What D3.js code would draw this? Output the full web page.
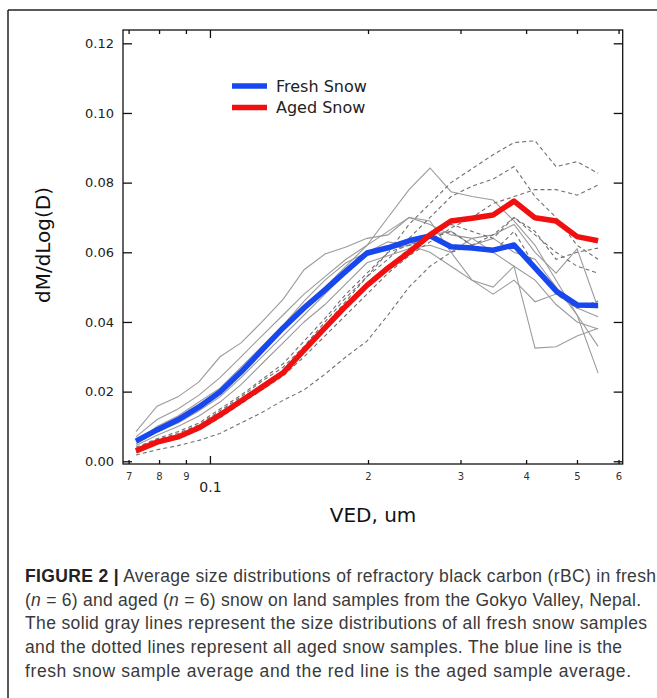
<!DOCTYPE html>
<html><head><meta charset="utf-8">
<script src="https://cdn.jsdelivr.net/npm/d3@7"></script>
<style>
html,body{margin:0;padding:0;background:#fff;}
svg{display:block;}
</style></head>
<body>
<svg id="chart" width="657" height="698"></svg>
<script>
// Bin centres (VED, um)
const ved = [0.0723,0.0793,0.0869,0.0953,0.1045,0.1146,0.1256,0.1378,0.1511,0.1656,0.1816,0.1991,0.2183,0.2394,0.2625,0.2878,0.3156,0.3461,0.3794,0.4160,0.4562,0.5002,0.5485];

// Averages
const freshAvg = [0.0058,0.0090,0.0119,0.0156,0.0199,0.0256,0.0319,0.0383,0.0440,0.0492,0.0546,0.0598,0.0613,0.0633,0.0647,0.0616,0.0612,0.0606,0.0621,0.0555,0.0489,0.0449,0.0447];
const agedAvg  = [0.0030,0.0055,0.0070,0.0096,0.0133,0.0173,0.0213,0.0254,0.0319,0.0383,0.0446,0.0505,0.0555,0.0600,0.0650,0.0690,0.0698,0.0707,0.0747,0.0699,0.0690,0.0645,0.0633];

// Individual fresh snow samples (solid gray)
const fresh1 = [0.0085,0.0158,0.0185,0.0228,0.0300,0.0340,0.0400,0.0465,0.0550,0.0595,0.0615,0.0640,0.0650,0.0700,0.0680,0.0650,0.0640,0.0600,0.0560,0.0520,0.0450,0.0400,0.0380];
const fresh2 = [0.0070,0.0120,0.0150,0.0190,0.0240,0.0300,0.0360,0.0420,0.0480,0.0530,0.0580,0.0620,0.0700,0.0780,0.0842,0.0774,0.0760,0.0750,0.0690,0.0620,0.0520,0.0420,0.0253];
const fresh3 = [0.0050,0.0085,0.0110,0.0145,0.0185,0.0240,0.0300,0.0360,0.0420,0.0480,0.0540,0.0590,0.0610,0.0620,0.0600,0.0560,0.0520,0.0500,0.0560,0.0325,0.0329,0.0360,0.0382];
const fresh4 = [0.0060,0.0095,0.0125,0.0160,0.0205,0.0260,0.0330,0.0390,0.0450,0.0500,0.0560,0.0620,0.0660,0.0700,0.0690,0.0600,0.0520,0.0480,0.0520,0.0458,0.0480,0.0440,0.0415];
const fresh5 = [0.0045,0.0075,0.0100,0.0130,0.0170,0.0220,0.0280,0.0340,0.0400,0.0450,0.0510,0.0570,0.0590,0.0610,0.0620,0.0600,0.0640,0.0650,0.0680,0.0600,0.0540,0.0610,0.0440];
const fresh6 = [0.0055,0.0100,0.0130,0.0170,0.0210,0.0270,0.0330,0.0390,0.0460,0.0520,0.0570,0.0600,0.0630,0.0620,0.0650,0.0660,0.0620,0.0640,0.0600,0.0580,0.0500,0.0420,0.0330];

// Individual aged snow samples (dashed gray)
const aged1 = [0.0018,0.0033,0.0045,0.0060,0.0080,0.0110,0.0140,0.0175,0.0205,0.0250,0.0300,0.0345,0.0420,0.0500,0.0560,0.0600,0.0620,0.0650,0.0700,0.0650,0.0600,0.0560,0.0540];
const aged2 = [0.0030,0.0060,0.0075,0.0100,0.0140,0.0180,0.0220,0.0260,0.0320,0.0390,0.0460,0.0530,0.0600,0.0680,0.0740,0.0800,0.0840,0.0880,0.0915,0.0920,0.0846,0.0860,0.0827];
const aged3 = [0.0035,0.0062,0.0080,0.0105,0.0145,0.0185,0.0230,0.0270,0.0330,0.0400,0.0470,0.0530,0.0580,0.0640,0.0700,0.0760,0.0790,0.0810,0.0846,0.0760,0.0700,0.0620,0.0580];
const aged4 = [0.0025,0.0050,0.0065,0.0090,0.0125,0.0165,0.0205,0.0245,0.0300,0.0360,0.0420,0.0480,0.0540,0.0590,0.0630,0.0670,0.0700,0.0740,0.0760,0.0780,0.0780,0.0764,0.0793];
const aged5 = [0.0032,0.0058,0.0072,0.0098,0.0135,0.0175,0.0215,0.0255,0.0320,0.0385,0.0450,0.0510,0.0560,0.0610,0.0650,0.0680,0.0660,0.0640,0.0700,0.0660,0.0580,0.0600,0.0612];
const aged6 = [0.0040,0.0065,0.0085,0.0110,0.0150,0.0190,0.0235,0.0280,0.0345,0.0410,0.0480,0.0540,0.0600,0.0620,0.0640,0.0660,0.0620,0.0600,0.0660,0.0560,0.0480,0.0440,0.0460];

const xTickValues = [0.07,0.08,0.09,0.1,0.2,0.3,0.4,0.5,0.6];
const xTickLabels = ["7","8","9","0.1","2","3","4","5","6"];
const yTickValues = [0.00,0.02,0.04,0.06,0.08,0.10,0.12];
const yTickLabels = ["0.00","0.02","0.04","0.06","0.08","0.10","0.12"];

const legendLabels = ["Fresh Snow","Aged Snow"];
const captionBold = "FIGURE 2 |";
const captionLines = [
  " Average size distributions of refractory black carbon (rBC) in fresh",
  null,
  "The solid gray lines represent the size distributions of all fresh snow samples",
  "and the dotted lines represent all aged snow samples. The blue line is the",
  "fresh snow sample average and the red line is the aged sample average."
];

const svg = d3.select("#chart");
const L = 123, R = 622.7, T = 30, B = 464;
const x = d3.scaleLog().domain([0.0683, 0.611]).range([L, R]);
const y = d3.scaleLinear().domain([-0.00078, 0.12382]).range([B, T]);

// outer figure frame (top + left)
svg.append("line").attr("x1",8).attr("x2",657).attr("y1",10).attr("y2",10).attr("stroke","#222").attr("stroke-width",1.5);
svg.append("line").attr("x1",8).attr("x2",8).attr("y1",10).attr("y2",698).attr("stroke","#222").attr("stroke-width",1.5);

const line = d3.line().x((d,i)=>x(ved[i])).y(d=>y(d));

const freshSamples = [fresh1,fresh2,fresh3,fresh4,fresh5,fresh6];
const agedSamples = [aged1,aged2,aged3,aged4,aged5,aged6];

const plot = svg.append("g");
plot.selectAll("path.fresh").data(freshSamples).join("path")
  .attr("class","fresh").attr("d",line).attr("fill","none")
  .attr("stroke","#9b9b9b").attr("stroke-width",1.1);
plot.selectAll("path.aged").data(agedSamples).join("path")
  .attr("class","aged").attr("d",line).attr("fill","none")
  .attr("stroke","#707070").attr("stroke-width",1.1).attr("stroke-dasharray","4,3");

plot.append("path").datum(freshAvg).attr("d",line).attr("fill","none")
  .attr("stroke","#1747ee").attr("stroke-width",5.5).attr("stroke-linejoin","round");
plot.append("path").datum(agedAvg).attr("d",line).attr("fill","none")
  .attr("stroke","#f01010").attr("stroke-width",5.5).attr("stroke-linejoin","round");

// axes
const fontAxis = "DejaVu Sans, Verdana, sans-serif";
const xb = svg.append("g").attr("transform",`translate(0,${B})`)
  .call(d3.axisBottom(x).tickValues(xTickValues).tickSizeInner(-4).tickSizeOuter(0).tickPadding(9)
    .tickFormat((d,i)=>xTickLabels[i]));
xb.select(".domain").remove();
xb.selectAll("line").attr("stroke","#111").attr("stroke-width",1.3);
xb.selectAll("text").attr("font-family",fontAxis).attr("font-size",10).attr("fill","#333");
xb.selectAll(".tick").filter(d=>d===0.1).select("line").attr("y2",-8);
xb.selectAll(".tick").filter(d=>d===0.1).select("text").attr("font-size",14).attr("y",18).attr("fill","#222");

const xt = svg.append("g").attr("transform",`translate(0,${T})`)
  .call(d3.axisTop(x).tickValues(xTickValues).tickSizeInner(-4).tickSizeOuter(0).tickFormat(""));
xt.select(".domain").remove();
xt.selectAll("line").attr("stroke","#111").attr("stroke-width",1.3);
xt.selectAll(".tick").filter(d=>d===0.1).select("line").attr("y2",8);

const yl = svg.append("g").attr("transform",`translate(${L},0)`)
  .call(d3.axisLeft(y).tickValues(yTickValues).tickSizeInner(-9).tickSizeOuter(0).tickPadding(9)
    .tickFormat((d,i)=>yTickLabels[i]));
yl.select(".domain").remove();
yl.selectAll("line").attr("stroke","#111").attr("stroke-width",1.3);
yl.selectAll("text").attr("font-family",fontAxis).attr("font-size",13).attr("fill","#222");

const yr = svg.append("g").attr("transform",`translate(${R},0)`)
  .call(d3.axisRight(y).tickValues(yTickValues).tickSizeInner(-9).tickSizeOuter(0).tickFormat(""));
yr.select(".domain").remove();
yr.selectAll("line").attr("stroke","#111").attr("stroke-width",1.3);

// plot box
svg.append("rect").attr("x",L).attr("y",T).attr("width",R-L).attr("height",B-T)
  .attr("fill","none").attr("stroke","#111").attr("stroke-width",1.3);

// axis titles
svg.append("text").attr("transform",`translate(50,245) rotate(-90)`).attr("text-anchor","middle")
  .attr("font-family",fontAxis).attr("font-size",20).attr("fill","#111").text("dM/dLog(D)");
svg.append("text").attr("x",373).attr("y",522).attr("text-anchor","middle")
  .attr("font-family",fontAxis).attr("font-size",20).attr("fill","#111").text("VED, um");

// legend
const legColors = ["#1747ee","#f01010"];
const legY = [86,107.5];
legendLabels.forEach((lab,i)=>{
  svg.append("line").attr("x1",232).attr("x2",267).attr("y1",legY[i]).attr("y2",legY[i])
    .attr("stroke",legColors[i]).attr("stroke-width",5.5);
  svg.append("text").attr("x",276).attr("y",legY[i]+5.5).attr("font-family",fontAxis)
    .attr("font-size",16).attr("fill","#222").text(lab);
});

// caption
const capFont = "Liberation Sans, Arial, Helvetica, sans-serif";
const capY = [581.5,605.5,629.3,653.1,677];
const capW = [631,616,622,597,606];
const cap = svg.append("g").attr("font-family",capFont).attr("font-size",17.5).attr("fill","#3a3a3a");
const t1 = cap.append("text").attr("x",25).attr("y",capY[0]).attr("textLength",capW[0]).attr("lengthAdjust","spacing");
t1.append("tspan").attr("font-weight","bold").attr("fill","#222").text(captionBold);
t1.append("tspan").text(captionLines[0]);
const t2 = cap.append("text").attr("x",25).attr("y",capY[1]).attr("textLength",capW[1]).attr("lengthAdjust","spacing");
t2.append("tspan").text("(");
t2.append("tspan").attr("font-style","italic").text("n");
t2.append("tspan").text(" = 6) and aged (");
t2.append("tspan").attr("font-style","italic").text("n");
t2.append("tspan").text(" = 6) snow on land samples from the Gokyo Valley, Nepal.");
for (let i=2;i<5;i++){
  cap.append("text").attr("x",25).attr("y",capY[i]).attr("textLength",capW[i]).attr("lengthAdjust","spacing").text(captionLines[i]);
}
</script>
</body></html>
